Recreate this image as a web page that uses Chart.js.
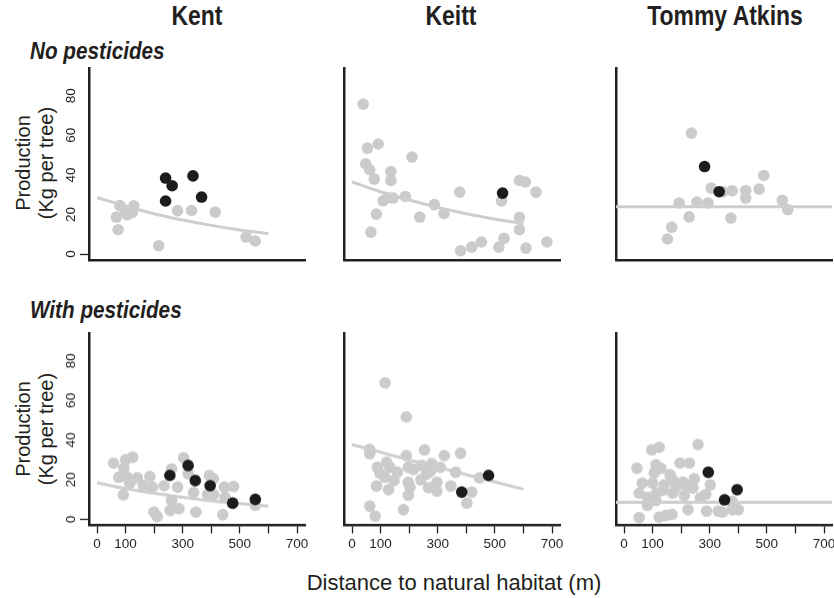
<!DOCTYPE html>
<html><head><meta charset="utf-8">
<script src="https://cdn.jsdelivr.net/npm/chart.js@4.4.1/dist/chart.umd.min.js"></script>
<style>
html,body{margin:0;padding:0;background:#fff;}
body{width:834px;height:598px;position:relative;overflow:hidden;font-family:"Liberation Sans",Arial,sans-serif;color:#231f20;}
.panel{position:absolute;}
.t{position:absolute;white-space:nowrap;line-height:1;}
.col{font-family:"Liberation Sans Narrow","Liberation Sans",sans-serif;font-weight:bold;font-size:27px;top:3px;transform:translateX(-50%) scaleX(0.85);}
.row{font-family:"Liberation Sans Narrow","Liberation Sans",sans-serif;font-weight:bold;font-style:italic;font-size:23px;left:30px;transform:scaleX(0.9);transform-origin:0 0;}
.ytitle{font-size:20px;line-height:23px;text-align:center;transform:translate(-50%,-50%) rotate(-90deg);}
.xtitle{font-size:22px;transform:translateX(-50%);}
</style></head>
<body>
<div class="t col" style="left:197px">Kent</div>
<div class="t col" style="left:451px">Keitt</div>
<div class="t col" style="left:725px">Tommy Atkins</div>
<div class="t row" style="top:40px">No pesticides</div>
<div class="t row" style="top:299px">With pesticides</div>
<div class="t ytitle" style="left:35px;top:163px">Production<br>(Kg per tree)</div>
<div class="t ytitle" style="left:35px;top:429px">Production<br>(Kg per tree)</div>
<div class="t xtitle" style="left:454px;top:572px">Distance to natural habitat (m)</div>
<script>
// ---- axis ticks ----
const xTickValues = [0, 100, 200, 300, 400, 500, 600, 700];
const xTickLabels = ['0', '100', '', '300', '', '500', '', '700'];
const yTickValues = [0, 20, 40, 60, 80];
const yTickLabels = ['0', '20', '40', '60', '80'];
const xMin = -28, xMax = 728, yMin = -3, yMax = 94;

// ---- Kent, no pesticides ----
const kentNoGray = [[68,18.7],[74,12.3],[80,24.5],[100,21.5],[106,19.8],[123,21],[129,24.4],[216,4.2],[282,21.9],[331,22],[414,21.2],[522,8.6],[554,6.6]];
const kentNoBlack = [[240,38.4],[263,34.5],[240,26.8],[336,39.5],[366,28.8]];
const kentNoTrend = [[0,28.6],[100,24.3],[200,20.4],[300,17.2],[400,14.5],[500,12.2],[600,10.3]];

// ---- Keitt, no pesticides ----
const keittNoGray = [[39,75.8],[54,53.5],[92,55.6],[48,45.6],[62,42.6],[78,37.9],[136,41.7],[136,37.2],[210,49],[109,26.9],[125,28.6],[144,28.3],[187,29.1],[85,20.2],[66,11.1],[237,18.7],[288,25],[322,20.5],[377,31.3],[523,26.8],[586,37.2],[607,36.4],[644,31.3],[586,18.5],[586,12.3],[380,1.7],[419,3.5],[453,6.1],[514,3.5],[532,7.9],[609,3],[682,6.1]];
const keittNoBlack = [[527,30.8]];
const keittNoTrend = [[0,36.4],[100,31.5],[200,27.3],[300,23.6],[400,20.4],[500,17.7],[600,15.3]];

// ---- Tommy Atkins, no pesticides ----
const tommyNoGray = [[236,61.1],[305,33.3],[346,31.5],[379,32],[426,32],[426,28.3],[473,32.8],[489,39.7],[554,27.1],[573,22.5],[193,25.8],[255,26.3],[294,25.8],[228,18.8],[374,18.2],[167,13.6],[152,7.6]];
const tommyNoBlack = [[282,44.2],[333,31.5]];
const tommyNoTrend = [[-28,23.9],[728,23.9]];

// ---- Kent, with pesticides ----
const kentWithGray = [[58,28.4],[100,30.1],[125,31.4],[94,25.8],[76,21.3],[106,21.3],[141,21],[115,18.3],[92,12.4],[185,21.7],[162,17.1],[194,16.3],[235,17],[261,25.5],[282,16.3],[303,31.1],[319,23],[338,13.6],[393,22.2],[407,20.5],[387,12.6],[408,12.6],[446,16.3],[478,16.6],[448,11.2],[261,9.6],[199,3.7],[211,1.5],[256,4.5],[287,5.4],[346,3.7],[440,2.4],[554,7.1]];
const kentWithBlack = [[255,22.2],[319,27.2],[344,19.6],[396,17],[475,8.2],[554,10.1]];
const kentWithTrend = [[0,18.5],[100,15.6],[200,13.2],[300,11.2],[400,9.4],[500,8],[600,6.7]];

// ---- Keitt, with pesticides ----
const keittWithGray = [[116,68.9],[190,51.7],[62,35.3],[62,33.1],[190,32.2],[254,35.1],[323,32.2],[380,33.4],[89,26.3],[121,28.9],[133,26.3],[98,23.3],[115,21.3],[147,19.6],[159,23.8],[197,26.3],[215,25.2],[244,27.2],[262,23],[279,28.1],[309,26.3],[274,24.3],[363,23.8],[86,16.8],[128,15],[197,18.8],[203,16.3],[241,20],[268,16],[297,18.8],[297,14.3],[346,16.8],[197,12.1],[62,6.7],[81,1.7],[180,4.9],[419,13.8],[402,8.2],[446,21]];
const keittWithBlack = [[384,13.8],[478,22.2]];
const keittWithTrend = [[0,37.8],[100,33.9],[200,30],[300,26.3],[400,22.6],[500,18.9],[600,15.3]];

// ---- Tommy Atkins, with pesticides ----
const tommyWithGray = [[259,37.8],[97,35.1],[123,36.4],[45,25.8],[112,27.6],[129,25.8],[106,23.5],[196,28.4],[229,28.4],[161,22.5],[64,18.3],[100,18.3],[141,17.5],[173,19.6],[206,18.8],[246,20.5],[217,17.1],[241,15.9],[302,17.5],[53,13.2],[82,11.2],[112,12.9],[135,14.6],[170,13.2],[211,12.1],[267,10.9],[286,12.6],[82,7.1],[112,9.6],[379,9.1],[53,0.9],[123,1.2],[146,2],[168,2.5],[224,4.9],[289,4.2],[330,4.2],[345,3.7],[379,4.9],[400,4.9],[182,16.3]];
const tommyWithBlack = [[295,23.8],[396,15],[352,9.9]];
const tommyWithTrend = [[-28,8.6],[728,8.6]];

const AXIS = '#231f20', GRAY = '#cbcbcb', BLACK = '#1d1b1c', LINE = '#cecece';

const yLabelPlugin = {
  id: 'ylab',
  afterDraw(chart, args, opts) {
    if (!opts.show) return;
    const s = chart.scales.y, ctx = chart.ctx;
    ctx.save();
    ctx.fillStyle = AXIS;
    ctx.font = '13.5px "Liberation Sans", Arial, sans-serif';
    ctx.textAlign = 'center';
    ctx.textBaseline = 'middle';
    s.ticks.forEach(t => {
      const y = s.getPixelForValue(t.value);
      ctx.save();
      ctx.translate(s.right - 18, y);
      ctx.rotate(-Math.PI / 2);
      ctx.fillText(yTickLabels[yTickValues.indexOf(t.value)], 0, 0);
      ctx.restore();
    });
    ctx.restore();
  }
};

const toPts = arr => arr.map(([x, y]) => ({x, y}));

const panels = [
  {left:0,     top:58,  w:315, h:212, yW:89, xH:10, gray:kentNoGray,   black:kentNoBlack,   trend:kentNoTrend,   yl:true,  xl:false},
  {left:333.5, top:58,  w:236, h:212, yW:10, xH:10, gray:keittNoGray,  black:keittNoBlack,  trend:keittNoTrend,  yl:false, xl:false},
  {left:606,   top:58,  w:236, h:212, yW:10, xH:10, gray:tommyNoGray,  black:tommyNoBlack,  trend:tommyNoTrend,  yl:false, xl:false},
  {left:0,     top:323, w:315, h:236.5, yW:89, xH:35, gray:kentWithGray,  black:kentWithBlack,  trend:kentWithTrend,  yl:true,  xl:true},
  {left:333.5, top:323, w:236, h:236.5, yW:10, xH:35, gray:keittWithGray, black:keittWithBlack, trend:keittWithTrend, yl:false, xl:true},
  {left:606,   top:323, w:236, h:236.5, yW:10, xH:35, gray:tommyWithGray, black:tommyWithBlack, trend:tommyWithTrend, yl:false, xl:true}
];

panels.forEach(p => {
  const div = document.createElement('div');
  div.className = 'panel';
  Object.assign(div.style, {left:p.left+'px', top:p.top+'px', width:p.w+'px', height:p.h+'px'});
  const c = document.createElement('canvas');
  div.appendChild(c);
  document.body.appendChild(div);
  new Chart(c, {
    type: 'scatter',
    data: {datasets: [
      {data: toPts(p.black), backgroundColor: BLACK, borderColor: BLACK, borderWidth: 0, pointRadius: 5.8},
      {data: toPts(p.trend), showLine: true, borderColor: LINE, borderWidth: 3, pointRadius: 0, tension: 0.4, fill: false},
      {data: toPts(p.gray), backgroundColor: GRAY, borderColor: GRAY, borderWidth: 0, pointRadius: 5.8}
    ]},
    options: {
      responsive: true, maintainAspectRatio: false, animation: false, events: [],
      layout: {padding: {top: 10, right: 10, left: 0, bottom: 0}},
      plugins: {legend: {display: false}, tooltip: {enabled: false}, ylab: {show: p.yl}},
      scales: {
        x: {
          type: 'linear', min: xMin, max: xMax,
          afterBuildTicks: s => { s.ticks = xTickValues.map(v => ({value: v})); },
          afterFit: s => { s.height = p.xH; },
          grid: {display: true, drawOnChartArea: false, drawTicks: p.xl, tickLength: 8, tickColor: AXIS, tickWidth: 1.3},
          border: {display: true, color: AXIS, width: 2.5},
          ticks: {display: p.xl, autoSkip: false, maxRotation: 0, minRotation: 0, padding: 3, color: AXIS,
                  font: {family: '"Liberation Sans", Arial, sans-serif', size: 13.5},
                  callback: v => { const i = xTickValues.indexOf(v); return i >= 0 ? xTickLabels[i] : ''; }}
        },
        y: {
          type: 'linear', min: yMin, max: yMax,
          afterBuildTicks: s => { s.ticks = yTickValues.map(v => ({value: v})); },
          afterFit: s => { s.width = p.yW; },
          grid: {display: true, drawOnChartArea: false, drawTicks: p.yl, tickLength: 9, tickWidth: 1.3,
                 tickColor: ctx => (ctx.tick && ctx.tick.value === 0) ? AXIS : 'rgba(0,0,0,0)'},
          border: {display: true, color: AXIS, width: 2.5},
          ticks: {display: false}
        }
      }
    },
    plugins: [yLabelPlugin]
  });
});
</script>
</body></html>
